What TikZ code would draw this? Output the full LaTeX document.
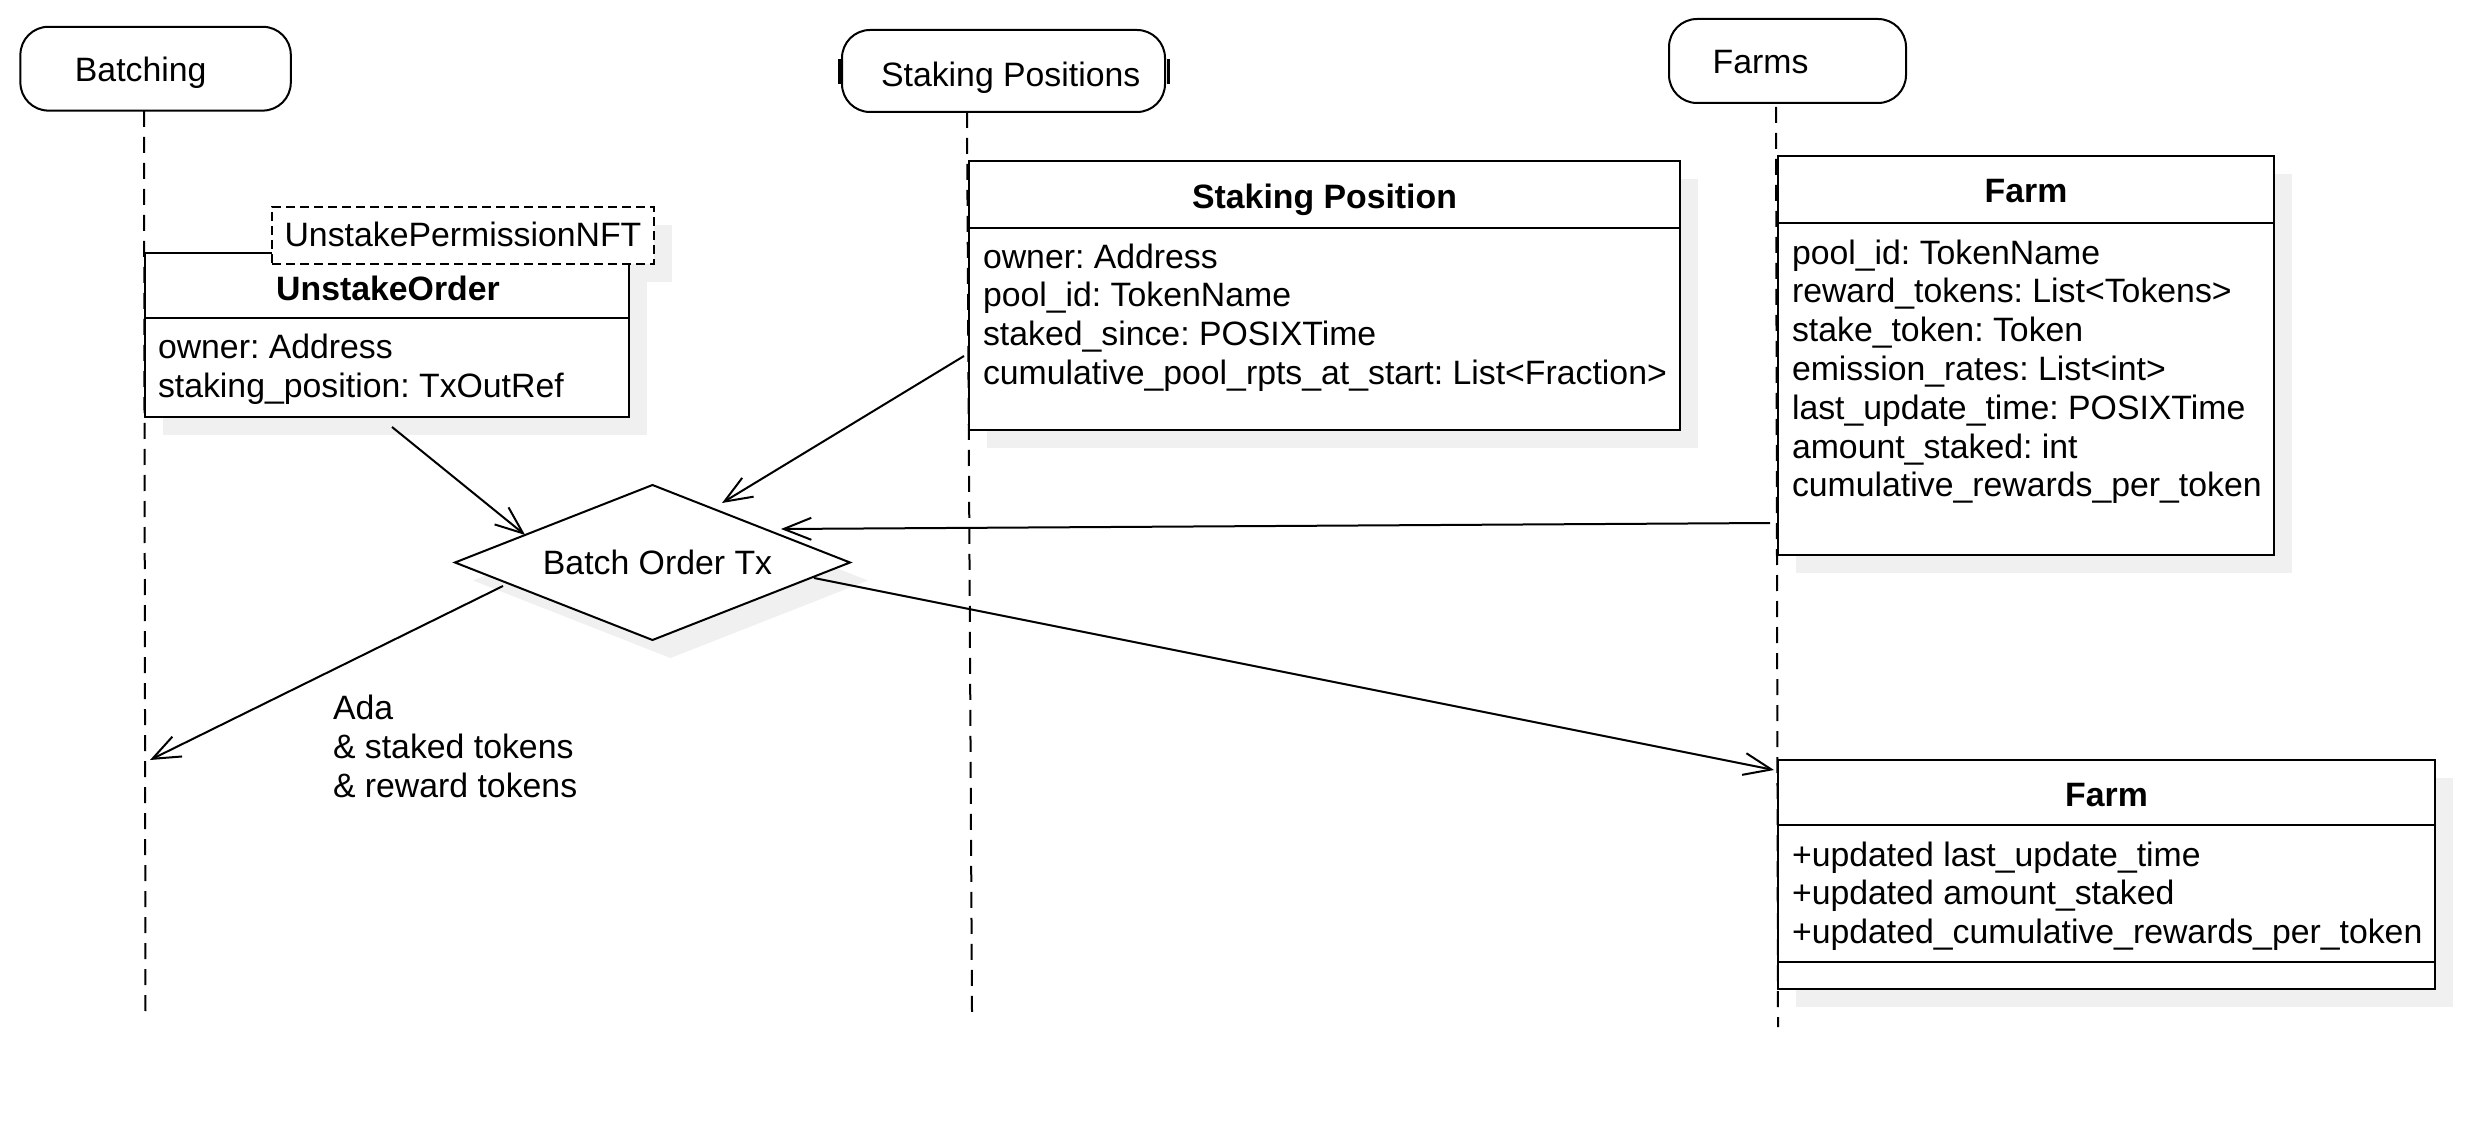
\documentclass[tikz,border=0pt]{standalone}
\usepackage{fontspec}
\setmainfont{Liberation Sans}
\usetikzlibrary{arrows.meta,shapes.geometric,calc}
\definecolor{shadowc}{RGB}{240,240,240}
\frenchspacing
\begin{document}
\begin{tikzpicture}[x=0.5pt,y=-0.5pt,
  every node/.style={font=\fontsize{16.9}{19.4}\selectfont, inner sep=0pt, outer sep=0pt},
  ttl/.style={font=\fontsize{16.9}{19.4}\selectfont\bfseries, anchor=base},
  lbl/.style={anchor=base},
  body/.style={anchor=north west, align=left},
  hdr/.style={draw, line width=1pt, rounded corners=14pt},
  cls/.style={draw, line width=1pt, fill=white, anchor=north west},
  shad/.style={fill=shadowc, draw=none},
  life/.style={line width=1pt, dash pattern=on 8pt off 5pt},
  msg/.style={line width=1pt, -{Straight Barb[length=13.8pt,width=11pt,line width=1pt]}},
  div/.style={line width=1pt}
]
\useasboundingbox (0,0) rectangle (2478,1128);

% ---------- lifeline headers ----------
\node[hdr, minimum width=135.2pt, minimum height=41.9pt] (hb) at (155.6,68.7) {};
\node[lbl] (hbt) at (140.7,81.5) {Batching};
\node[hdr, minimum width=161.5pt, minimum height=41pt] (hs) at (1003.5,71) {};
\node[lbl] (hst) at (1010.7,87) {Staking Positions};
\draw[line width=1.5pt] ($(hs.west)+(-3,-12)$) -- ($(hs.west)+(-3,13)$);
\draw[line width=1.5pt] ($(hs.east)+(3,-12)$) -- ($(hs.east)+(3,13)$);
\node[hdr, minimum width=118.5pt, minimum height=42pt] (hf) at (1787.5,61) {};
\node[lbl] (hft) at (1760.6,73.5) {Farms};

% ---------- shadows ----------
\fill[shad] (163,271) rectangle (647,435);      % UnstakeOrder
\fill[shad] (290,225) rectangle (672,282);      % UnstakePermissionNFT
\fill[shad] (987,179) rectangle (1698,448);     % Staking Position
\fill[shad] (1796,174) rectangle (2292,573);    % Farm top
\fill[shad] (1796,778) rectangle (2453,1007);   % Farm bottom
\fill[shad] (473,580.5) -- (670.5,503) -- (868,580.5) -- (670.5,658) -- cycle; % diamond

% ---------- lifelines ----------
\coordinate (l1a) at (144,111);  \coordinate (l1b) at (145.5,1012);
\coordinate (l2a) at (967,112);  \coordinate (l2b) at (972,1012);
\coordinate (l3a) at (1776,107); \coordinate (l3b) at (1778,1027);
\draw[life] (l1a) -- (l1b);
\draw[life] (l2a) -- (l2b);
\draw[life] (l3a) -- (l3b);

% ---------- UnstakeOrder ----------
\node[cls, minimum width=242pt, minimum height=82pt] (uo) at (145,253) {};
\draw[div] ($(uo.north west)+(0,65)$) -- ($(uo.north east)+(0,65)$);
\node[ttl] (uot) at (388,301) {UnstakeOrder};
\node[body] (uob) at (158,331.5) {\strut owner: Address\\staking\_position: TxOutRef};

% ---------- UnstakePermissionNFT ----------
\node[draw, line width=1pt, fill=white, dash pattern=on 4.5pt off 2.5pt,
      minimum width=191pt, minimum height=28.5pt, anchor=north west] (nft) at (272,207) {};
\node[lbl] (nftt) at (463,247) {UnstakePermissionNFT};

% ---------- Staking Position ----------
\node[cls, minimum width=355.5pt, minimum height=134.5pt] (sp) at (969,161) {};
\draw[div] ($(sp.north west)+(0,67)$) -- ($(sp.north east)+(0,67)$);
\node[ttl] (spt) at (1324.5,209) {Staking Position};
\node[body] (spb) at (983,241) {\strut owner: Address\\pool\_id: TokenName\\staked\_since: POSIXTime\\cumulative\_pool\_rpts\_at\_start: List<Fraction>};

% ---------- Farm (top) ----------
\node[cls, minimum width=248pt, minimum height=199.5pt] (f1) at (1778,156) {};
\draw[div] ($(f1.north west)+(0,67)$) -- ($(f1.north east)+(0,67)$);
\node[ttl] (f1t) at (2026,203) {Farm};
\node[body] (f1b) at (1792,237) {\strut pool\_id: TokenName\\reward\_tokens: List<Tokens>\\stake\_token: Token\\emission\_rates: List<int>\\last\_update\_time: POSIXTime\\amount\_staked: int\\cumulative\_rewards\_per\_token};

% ---------- Farm (bottom) ----------
\node[cls, minimum width=328.5pt, minimum height=114.5pt] (f2) at (1778,760) {};
\draw[div] ($(f2.north west)+(0,65)$) -- ($(f2.north east)+(0,65)$);
\draw[div] ($(f2.north west)+(0,202)$) -- ($(f2.north east)+(0,202)$);
\node[ttl] (f2t) at (2106.5,806.5) {Farm};
\node[body] (f2b) at (1792,839) {\strut +updated last\_update\_time\\+updated amount\_staked\\+updated\_cumulative\_rewards\_per\_token};

% ---------- Batch Order Tx ----------
\node[diamond, draw, line width=1pt, fill=white, shape aspect=2.55,
      minimum width=197.5pt, minimum height=77.5pt] (bo) at (652.5,562.5) {};
\node[lbl] (bot) at (657.5,574) {Batch Order Tx};

% ---------- messages ----------
\coordinate (bl) at (150,760);
\draw[msg] ($(uo.south)+(5,10)$) -- ($(bo.west)!0.355!(bo.north)$);
\draw[msg] ($(sp.west)+(-5,60.5)$) -- ($(bo.north)+(69.5,18)$);
\draw[msg] ($(f1.west)+(-8,167.5)$) -- ($(bo.north)+(128.5,44)$);
\draw[msg] ($(bo.west)+(48,23.5)$) -- (bl);
\draw[msg] ($(bo.east)+(-36,15.5)$) -- ($(f2.north west)+(-4,10)$);

\node[body] (ada) at (333,692.5) {\strut Ada\\\&{} staked tokens\\\&{} reward tokens};
\end{tikzpicture}
\end{document}
